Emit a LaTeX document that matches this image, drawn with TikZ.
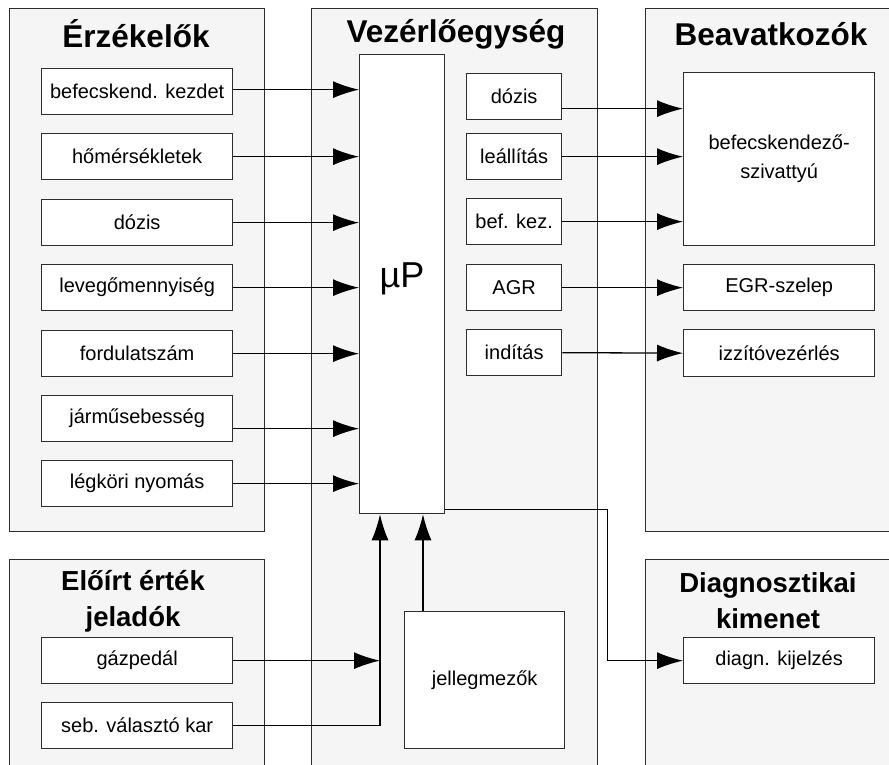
\documentclass[tikz,border=0pt]{standalone}
\usepackage{fontspec}
\setmainfont{Liberation Sans}
\usetikzlibrary{arrows.meta,positioning,calc}
\definecolor{panelgray}{RGB}{245,245,245}
\definecolor{edgegray}{RGB}{45,45,45}
\tikzset{
  panel/.style={draw=edgegray, line width=1.3pt, fill=panelgray, anchor=north west, inner sep=0pt},
  unit/.style={draw=edgegray, line width=1.3pt, fill=white, anchor=north west, inner sep=0pt,
               align=center, font=\fontsize{20}{29}\selectfont},
  heading/.style={inner sep=0pt, align=center, font=\fontsize{31.5}{36}\selectfont\bfseries},
  subheading/.style={heading, font=\fontsize{27.5}{36}\selectfont\bfseries},
  sig/.style={draw=black, line width=1.3pt, -{Latex[length=26pt,width=17pt]}},
}

\begin{document}
\begin{tikzpicture}[x=1pt,y=-1pt]
    \clip (0,0) rectangle (889,765);
    \node[panel, minimum width=255pt, minimum height=523pt] (sens) at (9,8) {};
    \node[panel, minimum width=286pt, minimum height=800pt] (ctrl) at (311,8) {};
    \node[panel, minimum width=260pt, minimum height=523pt] (act) at (645,8) {};
    \node[panel, minimum width=255pt, minimum height=250pt] (preset) at (9,559) {};
    \node[panel, minimum width=260pt, minimum height=250pt] (diag) at (645,559) {};

    \node[heading] (sens-t) at (136,34) {Érzékelők};
    \node[heading] (ctrl-t) at (456,34) {Vezérlőegység};
    \node[heading] (act-t) at (771,34) {Beavatkozók};
    \node[subheading] (preset-t) at (133,601) {Előírt érték\\jeladók};
    \node[subheading] (diag-t) at (768,601) {Diagnosztikai\\kimenet};

    \node[unit, minimum width=85pt, minimum height=459pt] (up) at (359,54) {};
    \node[font=\fontsize{36}{40}\selectfont] (up-t) at (402,279) {µP};

    \foreach \name/\txt/\top/\dy in {s1/befecskend. kezdet/68/-2, s2/hőmérsékletek/133/0,
        s3/dózis/199/0, s4/levegőmennyiség/264/0, s5/fordulatszám/330/0,
        s6/járműsebesség/395/10, s7/légköri nyomás/460/0} {
      \node[unit, minimum width=191pt, minimum height=46pt] (\name) at (41,\top) {\txt};
      \draw[sig] ([yshift=-\dy pt]\name.east) -- ([yshift=-\dy pt]\name.east -| up.west);
    }

    \foreach \name/\txt/\top in {o1/dózis/73, o2/leállítás/133, o3/bef. kez./198,
        o4/AGR/264, o5/indítás/329} {
      \node[unit, minimum width=95pt, minimum height=46pt] (\name) at (466,\top) {\txt};
    }

    \node[unit, minimum width=191pt, minimum height=173pt] (pump) at (683,72) {befecskendező-\\szivattyú};
    \node[unit, minimum width=191pt, minimum height=46pt] (egr) at (683,264) {EGR-szelep};
    \node[unit, minimum width=191pt, minimum height=47pt] (glow) at (683,329) {izzítóvezérlés};
    \node[unit, minimum width=191pt, minimum height=46pt] (dk) at (683,637) {diagn. kijelzés};

    \node[unit, minimum width=191pt, minimum height=46pt] (gas) at (41,637) {gázpedál};
    \node[unit, minimum width=191pt, minimum height=46pt] (gear) at (41,702) {seb. választó kar};
    \node[unit, minimum width=160pt, minimum height=137pt] (maps) at (404,611) {jellegmezők};

    \draw[sig] ([yshift=-12pt]o1.east) -- ([yshift=-12pt]o1.east -| pump.west);
    \draw[sig] (o2.east) -- (o2.east -| pump.west);
    \draw[sig] (o3.east) -- (o3.east -| pump.west);
    \draw[sig] (o4.east) -- (egr.west);
    \draw[sig] (o5.east) -- (glow.west);

    \coordinate (up-in) at ([xshift=21pt]up.south west);
    \draw[sig] (gear.east) -| (up-in);
    \draw[sig] (gas.east) -- (gas.east -| up-in);
    \draw[sig] ([xshift=19pt]maps.north west) -- ([xshift=19pt]maps.north west |- up.south);
    \draw[sig] ([yshift=5pt]up.south east) -- ++(162,0) |- (dk.west);
  \end{tikzpicture}
\end{document}
